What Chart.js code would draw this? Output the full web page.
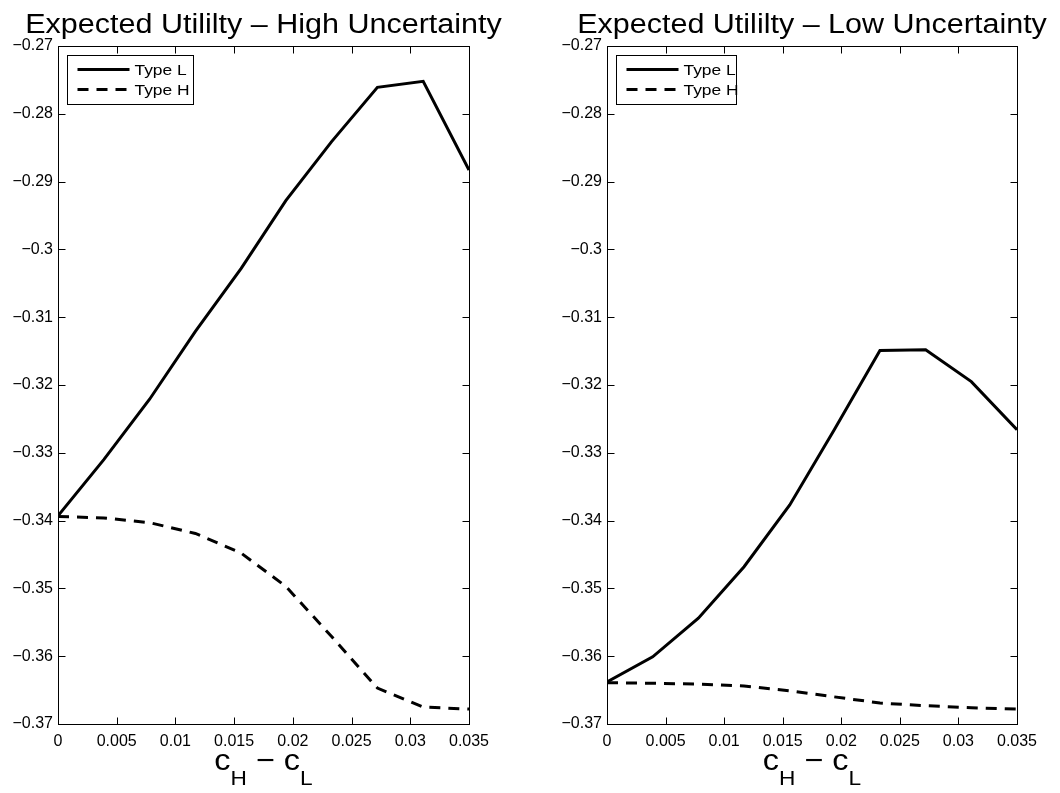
<!DOCTYPE html>
<html>
<head>
<meta charset="utf-8">
<title>Expected Utility</title>
<script src="https://cdn.jsdelivr.net/npm/chart.js@4/dist/chart.umd.min.js"></script>
<style>
  html, body { margin: 0; padding: 0; background: #fff; }
  #wrap { position: relative; width: 1060px; height: 793px; }
  .panel { position: absolute; top: 0; width: 530px; height: 793px; }
  #panelHigh { left: 0; }
  #panelLow { left: 530px; }
</style>
</head>
<body>
<div id="wrap">
  <div class="panel" id="panelHigh"><canvas id="chartHigh" width="530" height="793"></canvas></div>
  <div class="panel" id="panelLow"><canvas id="chartLow" width="530" height="793"></canvas></div>
</div>
<script>
// cost gap c_H - c_L on the horizontal axis
const costGap = [0, 0.0039, 0.0078, 0.0117, 0.0156, 0.0194, 0.0233, 0.0272, 0.0311, 0.035];

// expected utility, high uncertainty
const highTypeL = [-0.3393, -0.3310, -0.3221, -0.3121, -0.3028, -0.2928, -0.2841, -0.2761, -0.2752, -0.2883];
const highTypeH = [-0.3394, -0.3396, -0.3403, -0.3419, -0.3448, -0.3497, -0.3571, -0.3647, -0.3675, -0.3678];

// expected utility, low uncertainty
const lowTypeL = [-0.3638, -0.3601, -0.3544, -0.3468, -0.3377, -0.3266, -0.3149, -0.3148, -0.3195, -0.3266];
const lowTypeH = [-0.3639, -0.3640, -0.3641, -0.3644, -0.3651, -0.3660, -0.3669, -0.3673, -0.3676, -0.3678];

const xTickValues = [0, 0.005, 0.01, 0.015, 0.02, 0.025, 0.03, 0.035];
const yTickValues = [-0.37, -0.36, -0.35, -0.34, -0.33, -0.32, -0.31, -0.3, -0.29, -0.28, -0.27];

const seriesNames = ['Type L', 'Type H'];

const FONT = 'Liberation Sans, Arial, Helvetica, sans-serif';
const DASH = [11, 8];

const fmtTick = (v) => {
  const s = String(Math.abs(Number(v.toFixed(4))));
  return v < 0 ? '\u2212' + s : s;
};

// text drawn a little wider than the font's own metrics
const wideText = (ctx, text, x, y, sx) => {
  ctx.save();
  ctx.translate(x, y);
  ctx.scale(sx, 1);
  ctx.fillText(text, 0, 0);
  ctx.restore();
};

// box, inward ticks on all four sides, legend, title and axis label
const matlabFrame = {
  id: 'matlabFrame',
  afterDatasetsDraw(chart, args, opts) {
    const { ctx, chartArea: a, scales } = chart;
    const left = Math.round(a.left) + 0.5;
    const top = Math.round(a.top) + 0.5;
    const right = Math.round(a.right) + 0.5;
    const bottom = Math.round(a.bottom) + 0.5;
    const tick = 7;

    ctx.save();
    ctx.strokeStyle = '#000';
    ctx.lineWidth = 1;
    ctx.beginPath();
    xTickValues.forEach((v) => {
      const px = Math.round(scales.x.getPixelForValue(v)) + 0.5;
      ctx.moveTo(px, bottom); ctx.lineTo(px, bottom - tick);
      ctx.moveTo(px, top); ctx.lineTo(px, top + tick);
    });
    yTickValues.forEach((v) => {
      const py = Math.round(scales.y.getPixelForValue(v)) + 0.5;
      ctx.moveTo(left, py); ctx.lineTo(left + tick, py);
      ctx.moveTo(right, py); ctx.lineTo(right - tick, py);
    });
    ctx.stroke();
    ctx.strokeRect(left, top, right - left, bottom - top);

    // legend
    const lx = left + 9;
    const ly = top + 9;
    const lw = opts.legendWidth;
    const lh = 49;
    ctx.fillStyle = '#fff';
    ctx.fillRect(lx, ly, lw, lh);
    ctx.strokeRect(lx, ly, lw, lh);
    chart.data.datasets.forEach((ds, i) => {
      const y = ly + 14 + i * 20;
      ctx.beginPath();
      ctx.lineWidth = 3;
      ctx.setLineDash(ds.borderDash || []);
      ctx.moveTo(lx + 10, y);
      ctx.lineTo(lx + 62, y);
      ctx.stroke();
      ctx.setLineDash([]);
      ctx.fillStyle = '#000';
      ctx.font = `15px ${FONT}`;
      ctx.textAlign = 'left';
      ctx.textBaseline = 'middle';
      wideText(ctx, ds.label, lx + 67, y + 1, 1.16);
    });

    // title
    const cx = (a.left + a.right) / 2;
    ctx.fillStyle = '#000';
    ctx.font = `27px ${FONT}`;
    ctx.textAlign = 'center';
    ctx.textBaseline = 'alphabetic';
    wideText(ctx, opts.title, cx, 33, 1.13);

    // c_H − c_L
    const sx = 1.08;
    const big = `30px ${FONT}`;
    const sub = `21px ${FONT}`;
    const parts = [
      { t: 'c', f: big, dy: 0 },
      { t: 'H', f: sub, dy: 15 },
      { t: ' \u2212 ', f: big, dy: 0 },
      { t: 'c', f: big, dy: 0 },
      { t: 'L', f: sub, dy: 15 },
    ];
    let total = 0;
    parts.forEach((p) => { ctx.font = p.f; p.w = ctx.measureText(p.t).width * sx; total += p.w; });
    let x = cx - total / 2;
    ctx.textAlign = 'left';
    parts.forEach((p) => {
      ctx.font = p.f;
      wideText(ctx, p.t, x, 770 + p.dy, sx);
      x += p.w;
    });
    ctx.restore();
  },
};

const buildChart = (canvasId, title, typeL, typeH, yAxisWidth, padRight, legendWidth) => {
  const ctx = document.getElementById(canvasId).getContext('2d');
  const series = [typeL, typeH];

  return new Chart(ctx, {
    type: 'line',
    data: {
      datasets: series.map((values, i) => ({
        label: seriesNames[i],
        data: costGap.map((x, j) => ({ x, y: values[j] })),
        borderColor: '#000',
        borderWidth: 3,
        borderDash: i === 1 ? DASH : [],
        pointRadius: 0,
        tension: 0,
        fill: false,
      })),
    },
    options: {
      responsive: false,
      animation: false,
      devicePixelRatio: 1,
      layout: { padding: { top: 46, right: padRight, bottom: 0, left: 0 } },
      plugins: {
        legend: { display: false },
        title: { display: false },
        tooltip: { enabled: false },
        matlabFrame: { title, legendWidth },
      },
      scales: {
        x: {
          type: 'linear',
          min: 0,
          max: 0.035,
          afterBuildTicks: (axis) => { axis.ticks = xTickValues.map((value) => ({ value })); },
          afterFit: (axis) => { axis.height = 69; },
          grid: { display: false, drawTicks: false },
          border: { display: false },
          ticks: {
            autoSkip: false,
            maxRotation: 0,
            padding: 8,
            color: '#000',
            font: { family: FONT, size: 16 },
            callback: (v) => fmtTick(v),
          },
        },
        y: {
          type: 'linear',
          min: -0.37,
          max: -0.27,
          afterBuildTicks: (axis) => { axis.ticks = yTickValues.map((value) => ({ value })); },
          afterFit: (axis) => { axis.width = yAxisWidth; },
          grid: { display: false, drawTicks: false },
          border: { display: false },
          ticks: {
            autoSkip: false,
            padding: 5,
            color: '#000',
            font: { family: FONT, size: 16 },
            callback: (v) => fmtTick(v),
          },
        },
      },
    },
    plugins: [matlabFrame],
  });
};

buildChart('chartHigh', 'Expected Utililty \u2013 High Uncertainty', highTypeL, highTypeH, 58, 61, 126);
buildChart('chartLow', 'Expected Utililty \u2013 Low Uncertainty', lowTypeL, lowTypeH, 77, 43, 120);
</script>
</body>
</html>
